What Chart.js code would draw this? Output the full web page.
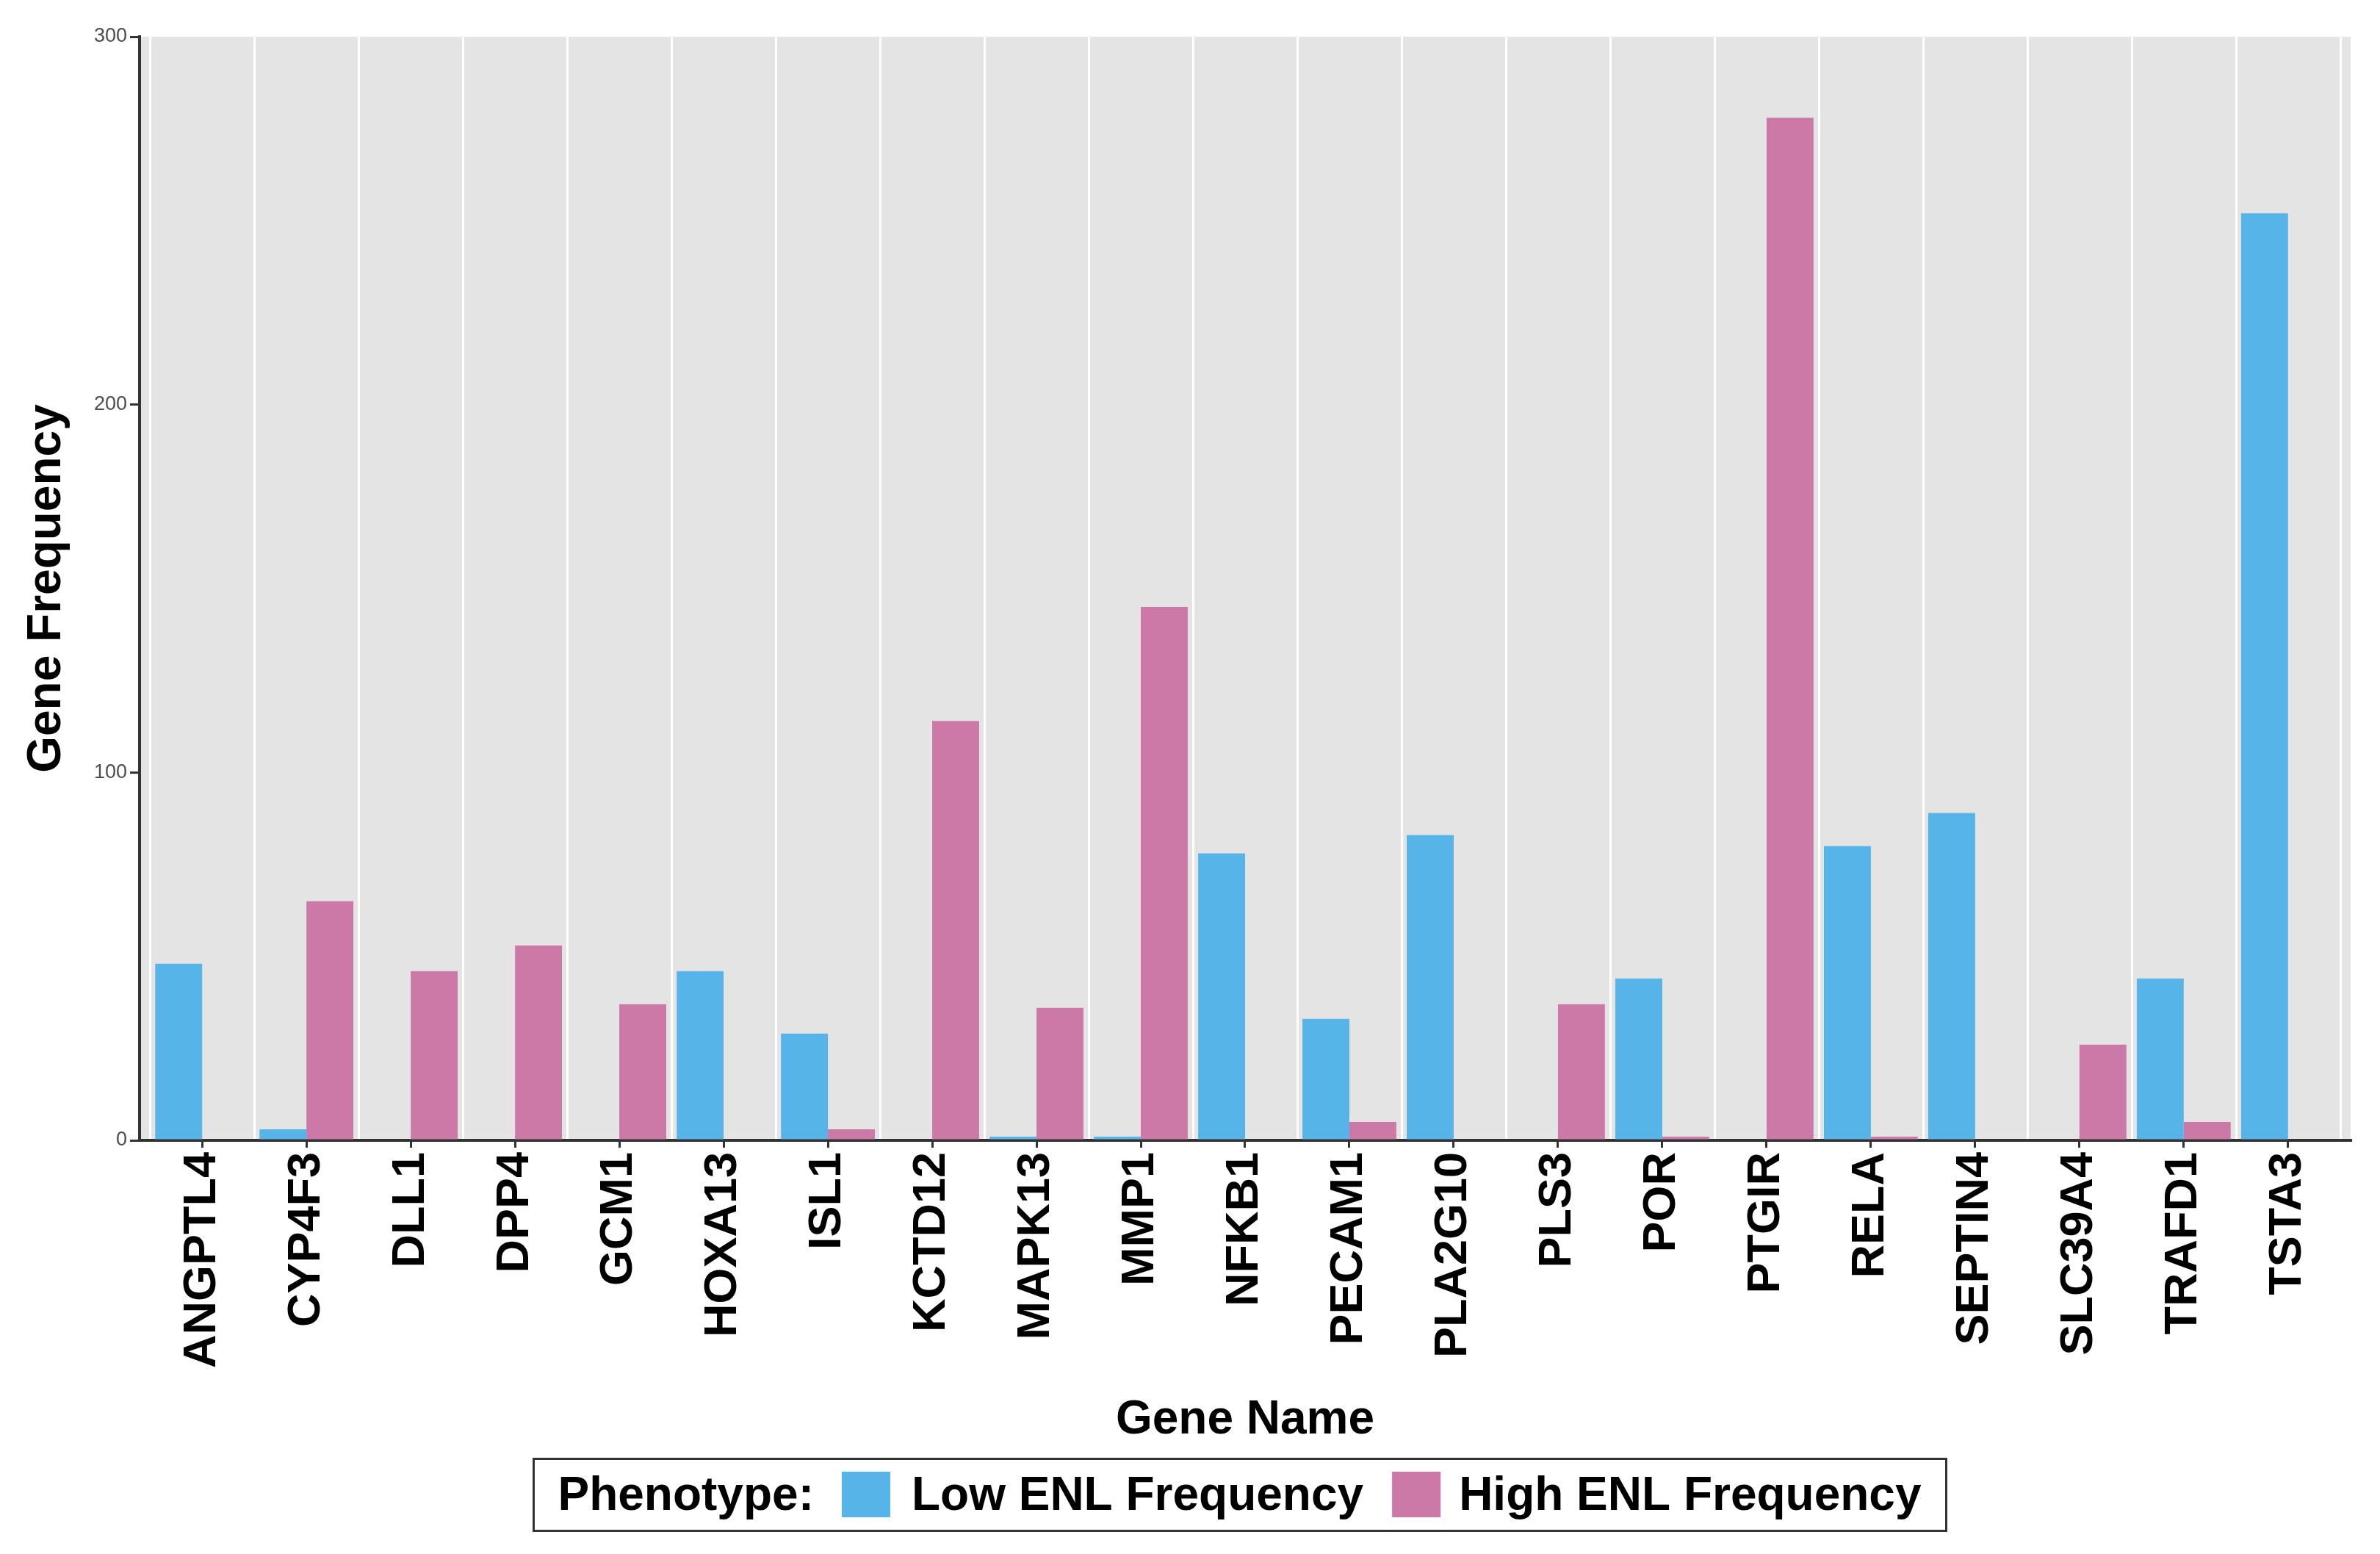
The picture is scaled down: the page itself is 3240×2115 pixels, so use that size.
<!DOCTYPE html>
<html>
<head>
<meta charset="utf-8">
<script src="https://cdn.jsdelivr.net/npm/chart.js@4/dist/chart.umd.min.js"></script>
<style>
  html, body { margin: 0; padding: 0; background: #ffffff; }
  #c { display: block; }
</style>
</head>
<body>
<canvas id="c" width="3240" height="2115"></canvas>
<script>
// ---- data ----
const categories = ['ANGPTL4','CYP4F3','DLL1','DPP4','GCM1','HOXA13','ISL1','KCTD12','MAPK13','MMP1','NFKB1','PECAM1','PLA2G10','PLS3','POR','PTGIR','RELA','SEPTIN4','SLC39A4','TRAFD1','TSTA3'];
const lowENL  = [48, 3, 0, 0, 0, 46, 29, 0, 1, 1, 78, 33, 83, 0, 44, 0, 80, 89, 0, 44, 252];
const highENL = [0, 65, 46, 53, 37, 0, 3, 114, 36, 145, 0, 5, 0, 37, 1, 278, 1, 0, 26, 5, 0];
const yTicks = [0, 100, 200, 300];
const seriesNames = ['Low ENL Frequency', 'High ENL Frequency'];
const legendTitle = 'Phenotype:';

const BLUE = '#56B4E9';
const PINK = '#CC79A7';
const FONT = '"Liberation Sans", Arial, Helvetica, sans-serif';

const panelPlugin = {
  id: 'panel',
  beforeDraw(chart) {
    const {ctx, chartArea: a, scales} = chart;
    ctx.save();
    ctx.fillStyle = '#ffffff';
    ctx.fillRect(0, 0, chart.width, chart.height);
    ctx.fillStyle = '#E4E4E4';
    ctx.fillRect(a.left, a.top, a.right - a.left, a.bottom - a.top);
    // white separators between categories
    ctx.strokeStyle = '#ffffff';
    ctx.lineWidth = 3;
    for (let i = -1; i < categories.length; i++) {
      const x = Math.round(scales.x.getPixelForValue(i + 0.5)) + 0.5;
      if (x <= a.left + 2 || x >= a.right - 1) continue;
      ctx.beginPath();
      ctx.moveTo(x, a.top);
      ctx.lineTo(x, a.bottom);
      ctx.stroke();
    }
    ctx.restore();
  }
};

const legendPlugin = {
  id: 'customLegend',
  afterDraw(chart) {
    const {ctx, chartArea: a} = chart;
    ctx.save();
    ctx.font = 'bold 64px ' + FONT;
    const wT = ctx.measureText(legendTitle).width;
    const w1 = ctx.measureText(seriesNames[0]).width;
    const w2 = ctx.measureText(seriesNames[1]).width;
    const sw = 66;
    const total = 33 + wT + 38 + sw + 29 + w1 + 39 + sw + 25 + w2 + 34;
    const cx = (a.left + a.right) / 2 - 7;
    const top = chart.height - 130;
    const h = 98;
    let x = cx - total / 2;
    ctx.strokeStyle = '#333333';
    ctx.lineWidth = 3;
    ctx.strokeRect(Math.round(x) + 0.5, top + 0.5, Math.round(total), h);
    const mid = top + h / 2;
    ctx.fillStyle = '#000000';
    ctx.textBaseline = 'middle';
    ctx.textAlign = 'left';
    x += 33;
    ctx.fillText(legendTitle, x, mid + 3);
    x += wT + 38;
    ctx.fillStyle = BLUE;
    ctx.fillRect(x, mid - 31, sw, 62);
    x += sw + 29;
    ctx.fillStyle = '#000000';
    ctx.fillText(seriesNames[0], x, mid + 3);
    x += w1 + 39;
    ctx.fillStyle = PINK;
    ctx.fillRect(x, mid - 31, sw, 62);
    x += sw + 25;
    ctx.fillStyle = '#000000';
    ctx.fillText(seriesNames[1], x, mid + 3);
    ctx.restore();
  }
};

new Chart(document.getElementById('c'), {
  type: 'bar',
  data: {
    datasets: [
      {
        label: seriesNames[0],
        data: categories.map((c, i) => ({x: i, y: lowENL[i]})),
        backgroundColor: BLUE,
        borderWidth: 0,
        categoryPercentage: 0.9,
        barPercentage: 1.0
      },
      {
        label: seriesNames[1],
        data: categories.map((c, i) => ({x: i, y: highENL[i]})),
        backgroundColor: PINK,
        borderWidth: 0,
        categoryPercentage: 0.9,
        barPercentage: 1.0
      }
    ]
  },
  options: {
    responsive: false,
    animation: false,
    devicePixelRatio: 1,
    layout: { padding: { top: 50, right: 40, bottom: 130, left: 0 } },
    plugins: {
      legend: { display: false },
      tooltip: { enabled: false }
    },
    scales: {
      x: {
        type: 'linear',
        min: -0.6,
        max: 20.6,
        bounds: 'data',
        offset: false,
        grace: 0,
        afterFit: s => { s.height = 433; },
        afterBuildTicks: s => { s.ticks = categories.map((c, i) => ({value: i})); },
        ticks: {
          autoSkip: false,
          includeBounds: false,
          minRotation: 90,
          maxRotation: 90,
          padding: 6,
          color: '#000000',
          font: { family: FONT, size: 63, weight: 'bold' },
          callback: v => categories[v]
        },
        grid: {
          offset: false,
          drawOnChartArea: false,
          drawTicks: true,
          tickLength: 10,
          color: '#333333',
          lineWidth: 3
        },
        border: { display: true, color: '#333333', width: 4 },
        title: {
          display: true,
          text: 'Gene Name',
          color: '#000000',
          font: { family: FONT, size: 64, weight: 'bold' },
          padding: { top: 0, bottom: 13 }
        }
      },
      y: {
        min: 0,
        max: 300,
        afterFit: s => { s.width = 190; },
        afterBuildTicks: s => { s.ticks = yTicks.map(v => ({value: v})); },
        ticks: {
          padding: 4,
          color: '#4D4D4D',
          font: { family: FONT, size: 27 }
        },
        grid: {
          drawOnChartArea: false,
          drawTicks: true,
          tickLength: 13,
          color: '#333333',
          lineWidth: 3
        },
        border: { display: true, color: '#333333', width: 4 },
        title: {
          display: true,
          text: 'Gene Frequency',
          color: '#000000',
          font: { family: FONT, size: 64, weight: 'bold' },
          padding: { top: 26, bottom: 0 }
        }
      }
    }
  },
  plugins: [panelPlugin, legendPlugin]
});
</script>
</body>
</html>
